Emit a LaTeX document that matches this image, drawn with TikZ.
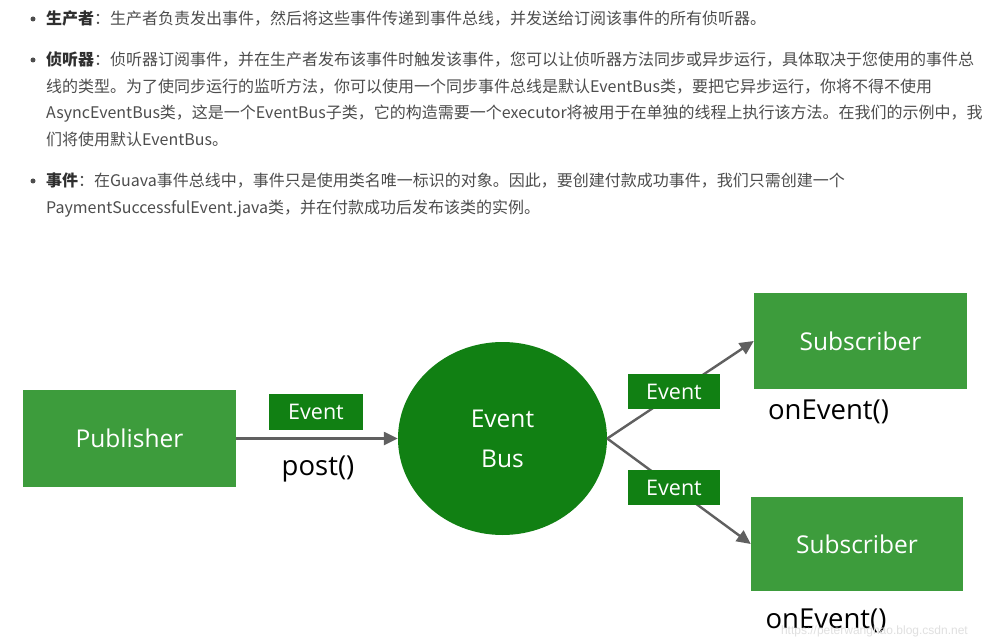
\documentclass[tikz,border=0pt]{standalone}
\usepackage{fontspec}
\setmainfont{Noto Sans CJK SC}
\newfontfamily\diag{Open Sans}
\newfontfamily\wm{Liberation Sans}
\usetikzlibrary{shapes.geometric,arrows.meta}
\definecolor{txt}{HTML}{4D4D4D}
\definecolor{txtb}{HTML}{2F2F2F}
\definecolor{lgreen}{HTML}{3D9C3C}
\definecolor{dgreen}{HTML}{118013}
\definecolor{arrgrey}{HTML}{606060}
\begin{document}
\begin{tikzpicture}[x=1pt,y=-1pt,
  line/.style={anchor=base west,inner sep=0pt,text=txt,font=\fontsize{16}{20}\selectfont},
  bul/.style={circle,fill=txt,inner sep=0pt,minimum size=5pt},
  bigbox/.style={rectangle,fill=lgreen,text=white,inner sep=0pt,font=\diag\fontsize{24.5}{28}\selectfont},
  evbox/.style={rectangle,fill=dgreen,text=white,inner sep=0pt,font=\diag\fontsize{21.5}{24}\selectfont},
  meth/.style={text=black,inner sep=0pt,font=\diag\fontsize{27.5}{30}\selectfont},
  arr/.style={draw=arrgrey,line width=2.4pt,-{Triangle[length=14pt,width=13pt]}},
  con/.style={draw=arrgrey,line width=2.4pt}]
\useasboundingbox (0,0) rectangle (982,639);
\fill[white] (0,0) rectangle (982,639);
% bullets
\node[bul] (b1) at (33,19) {};
\node[bul] (b2) at (33,60) {};
\node[bul] (b3) at (33,181) {};
% text lines
\node[line] (l1) at (46,25) {{\bfseries\color{txtb}生产者}：生产者负责发出事件，然后将这些事件传递到事件总线，并发送给订阅该事件的所有侦听器。};
\node[line] (l2) at (46,66) {{\bfseries\color{txtb}侦听器}：侦听器订阅事件，并在生产者发布该事件时触发该事件，您可以让侦听器方法同步或异步运行，具体取决于您使用的事件总};
\node[line] (l3) at (46,93) {线的类型。为了使同步运行的监听方法，你可以使用一个同步事件总线是默认EventBus类，要把它异步运行，你将不得不使用};
\node[line] (l4) at (46,119) {AsyncEventBus类，这是一个EventBus子类，它的构造需要一个executor将被用于在单独的线程上执行该方法。在我们的示例中，我};
\node[line] (l5) at (46,146) {们将使用默认EventBus。};
\node[line] (l6) at (46,187) {{\bfseries\color{txtb}事件}：在Guava事件总线中，事件只是使用类名唯一标识的对象。因此，要创建付款成功事件，我们只需创建一个};
\node[line] (l7) at (46,214) {PaymentSuccessfulEvent.java类，并在付款成功后发布该类的实例。};
% diagram main nodes
\node[bigbox,minimum width=213pt,minimum height=97pt] (pub) at (129.5,438.5) {Publisher};
\node[ellipse,fill=dgreen,text=white,inner sep=0pt,minimum width=209pt,minimum height=193pt,
      font=\diag\fontsize{24.5}{28}\selectfont,align=center] (bus) at (502.5,438.5) {Event\\[12pt]Bus};
\node[bigbox,minimum width=213pt,minimum height=96pt] (sub1) at (860.5,341) {Subscriber};
\node[bigbox,minimum width=212pt,minimum height=94pt] (sub2) at (857,544) {Subscriber};
% connectors
\draw[arr] (pub.east) -- (bus.west);
\coordinate (hub) at (bus.east);
\draw[arr] (hub) -- (sub1.west);
\draw[arr] (hub) -- (sub2.west);
% event labels
\node[evbox,minimum width=94pt,minimum height=36pt] (ev1) at (316,412) {Event};
\node[evbox,minimum width=92pt,minimum height=35pt] (ev2) at (674,391.5) {Event};
\node[evbox,minimum width=92pt,minimum height=35pt] (ev3) at (674,487.5) {Event};
% method labels
\node[meth] (post) at (318,469) {post()};
\node[meth] (one1) at (828.5,412) {onEvent()};
\node[meth] (one2) at (826,621) {onEvent()};
% watermark
\node[anchor=base east,inner sep=0pt,text=black!12,font=\wm\fontsize{12}{14}\selectfont] (wmk) at (968,634) {https://peterwanghao.blog.csdn.net};
\end{tikzpicture}
\end{document}
